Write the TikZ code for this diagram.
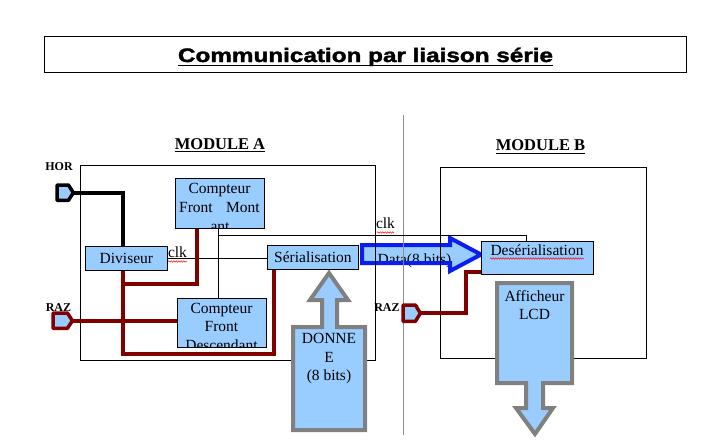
\documentclass[tikz,border=0pt]{standalone}
\usepackage{fontspec}
\usepackage{graphicx}
\setmainfont{Liberation Serif}
\newfontfamily\arialf{Liberation Sans}[BoldFeatures={FakeBold=1.6}]
\usetikzlibrary{decorations.pathmorphing}
\definecolor{boxblue}{HTML}{99CCFF}
\definecolor{wirered}{HTML}{800000}
\definecolor{arrowgray}{HTML}{808080}
\definecolor{sepgray}{HTML}{8C8C8C}
\definecolor{datablue}{HTML}{0A1EF0}
\begin{document}
\begin{tikzpicture}[x=1pt,y=-1pt,
  bbox/.style={draw=black, line width=0.8pt, fill=boxblue, inner sep=0pt, anchor=north west},
  modbox/.style={draw=black, line width=0.8pt, anchor=north west, inner sep=0pt},
  rwire/.style={draw=wirered, line width=4pt},
  bwire/.style={draw=black, line width=4pt},
  thinw/.style={draw=black, line width=0.8pt},
  garrow/.style={draw=arrowgray, line width=4pt, fill=boxblue},
  wavy/.style={draw=red, line width=0.5pt, decorate, decoration={snake, amplitude=0.7pt, segment length=2.5pt}},
  txt/.style={font=\fontsize{15.5}{19}\selectfont, inner sep=0pt},
  lbl/.style={font=\fontsize{12}{13}\selectfont\bfseries, inner sep=0pt, anchor=base},
  conn/.style={inner sep=0pt, anchor=north west},
  modlbl/.style={font=\fontsize{16.5}{18}\selectfont\bfseries, inner sep=0pt, anchor=base}
]
\useasboundingbox (0,0) rectangle (713,440);
\fill[white] (0,0) rectangle (713,440);

% title
\node[modbox, minimum width=642pt, minimum height=36pt] (titlebox) at (44,36) {};
\node[anchor=base, inner sep=0pt] (title) at (365.5,62)
  {\resizebox{375pt}{\height}{\arialf\bfseries\fontsize{19.5}{20}\selectfont Communication par liaison série}};
\draw[line width=1.4pt] ([yshift=-3.5pt]title.base west) -- ([yshift=-3.5pt]title.base east);

% module labels
\node[modlbl] (modA) at (220,149) {MODULE A};
\draw[line width=1pt] ([yshift=-2.8pt]modA.base west) -- ([yshift=-2.8pt]modA.base east);
\node[modlbl] (modB) at (540.5,150.5) {MODULE B};
\draw[line width=1pt] ([yshift=-2.8pt]modB.base west) -- ([yshift=-2.8pt]modB.base east);

% data arrow (under the thin lines)
\fill[boxblue] (362,245) -- (450,245) -- (450,238) -- (481,254.5) -- (450,271) -- (450,263) -- (362,263) -- cycle;
\node[txt, anchor=base] (data) at (414.5,264) {Data(8 bits)};
\draw[datablue, line width=4pt] (362,245) -- (450,245) -- (450,238) -- (481,254.5) -- (450,271) -- (450,263) -- (362,263) -- cycle;

% separator and modules
\draw[sepgray, line width=0.8pt] (403,115) -- (403,435);
\node[modbox, minimum width=295pt, minimum height=195pt] (mA) at (80,165) {};
\node[modbox, minimum width=206pt, minimum height=191pt] (mB) at (440,167) {};

% boxes
\node[bbox, minimum width=89pt, minimum height=50pt] (cfm) at (175,178) {};
\node[bbox, minimum width=89pt, minimum height=49pt] (cfd) at (177,298) {};
\node[bbox, txt, minimum width=82pt, minimum height=24pt] (div) at (85,246) {Diviseur};
\node[bbox, txt, minimum width=91pt, minimum height=24pt] (ser) at (267,245) {Sérialisation};
\node[bbox, minimum width=112pt, minimum height=33pt] (des) at (481,241) {};
\node[txt, anchor=base] (destxt) at (537,255) {Desérialisation};

% connectors
\node[conn, minimum width=16pt, minimum height=15pt] (hor) at (57,185) {};
\node[conn, minimum width=19pt, minimum height=15pt] (razA) at (53,313) {};
\node[conn, minimum width=17pt, minimum height=16pt] (razB) at (403,305) {};

% thin clk wires
\coordinate (k) at (218,235);
\draw[thinw] (div.east) -- (div.east -| ser.west);
\draw[thinw] ([xshift=43pt]cfm.south west) -- ([xshift=43pt]cfm.south west |- cfd.north);
\draw[thinw] (k) -| ([xshift=45pt]des.north west);

% red and black wires
\coordinate (j1) at (123,284);
\draw[rwire] ([xshift=38pt]div.south west) -- ++(0,83) -| ([xshift=7pt]ser.south west);
\draw[rwire] ([xshift=22pt]cfm.south west) |- (j1);
\draw[rwire] (razA.east) -- (razA.east -| cfd.west);
\draw[rwire] (razB.east) -- ++(46,0) |- ([yshift=3pt]des.south west);
\draw[bwire] (hor.east) -| ([xshift=38pt]div.north west);

% redraw box borders over wire ends
\draw[line width=0.8pt] (cfm.north west) rectangle (cfm.south east);
\draw[line width=0.8pt] (cfd.north west) rectangle (cfd.south east);
\draw[line width=0.8pt] (des.north west) rectangle (des.south east);

% connector shapes
\draw[line width=3.5pt, fill=boxblue, line join=round] (hor.north west) -- ([xshift=-5pt]hor.north east) -- (hor.east) -- ([xshift=-5pt]hor.south east) -- (hor.south west) -- cycle;
\draw[wirered, line width=3.5pt, fill=boxblue, line join=round] (razA.north west) -- ([xshift=-5pt]razA.north east) -- (razA.east) -- ([xshift=-5pt]razA.south east) -- (razA.south west) -- cycle;
\draw[wirered, line width=3.5pt, fill=boxblue, line join=round] (razB.north west) -- ([xshift=-5pt]razB.north east) -- (razB.east) -- ([xshift=-5pt]razB.south east) -- (razB.south west) -- cycle;

% counter texts (clipped)
\begin{scope}
\clip (cfm.north west) rectangle (cfm.south east);
\node[txt, anchor=base] at (219.5,193) {Compteur};
\node[txt, anchor=base west] at (179,212.5) {Front};
\node[txt, anchor=base east] at (260,212.5) {Mont};
\node[txt, anchor=base] at (220,231.5) {ant};
\end{scope}
\begin{scope}
\clip (cfd.north west) rectangle (cfd.south east);
\node[txt, anchor=base] at (221.5,313) {Compteur};
\node[txt, anchor=base] at (221.5,331.5) {Front};
\node[txt, anchor=base] at (221.5,350) {Descendant};
\end{scope}

% gray arrows
\filldraw[garrow] (293,327) -- (322,327) -- (322,300) -- (310,300) -- (329,273) -- (348,300) -- (337,300) -- (337,327) -- (365,327) -- (365,430) -- (293,430) -- cycle;
\node[txt, anchor=base] (don1) at (329,343) {DONNE};
\node[txt, anchor=base] (don2) at (329,362) {E};
\node[txt, anchor=base] (don3) at (329,380.5) {(8 bits)};
\filldraw[garrow] (497,283) -- (572,283) -- (572,383) -- (543,383) -- (543,408) -- (553,408) -- (535,434) -- (516,408) -- (526,408) -- (526,383) -- (497,383) -- cycle;
\node[txt, anchor=base] (aff1) at (534.5,301) {Afficheur};
\node[txt, anchor=base] (aff2) at (534.5,319.5) {LCD};

% labels
\node[lbl] (horl) at (59,170.5) {HOR};
\node[lbl] (razAl) at (58.5,311.5) {RAZ};
\node[lbl] (razBl) at (387,311.5) {RAZ};
\node[txt, anchor=base] (clk1) at (177.5,257) {clk};
\node[txt, anchor=base] (clk2) at (385.5,228.5) {clk};

% spell-check underlines
\draw[wavy] (168,261.5) -- (187,261.5);
\draw[wavy] (377,232.5) -- (394,232.5);
\draw[wavy] (490,258.5) -- (584,258.5);
\end{tikzpicture}
\end{document}
